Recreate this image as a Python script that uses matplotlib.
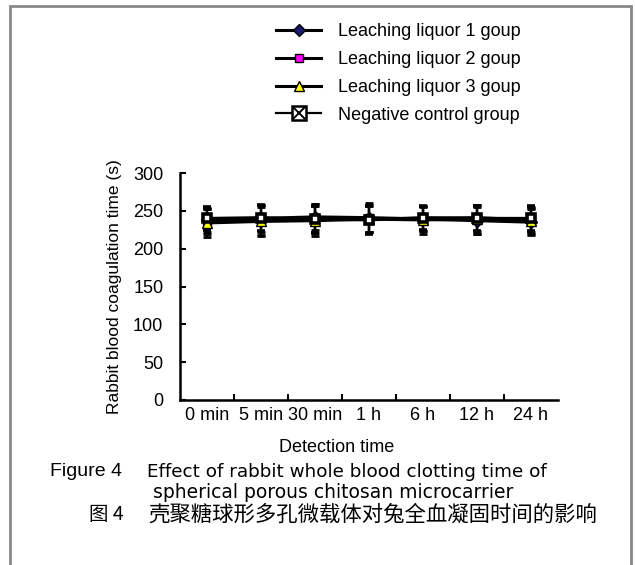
import numpy as np
import matplotlib.pyplot as plt
from matplotlib.legend_handler import HandlerTuple
from matplotlib.lines import Line2D
from matplotlib.patches import Rectangle

# Detection times and clotting times (s), mean and SD
times = ['0 min', '5 min', '30 min', '1 h', '6 h', '12 h', '24 h']
liquor1 = [238, 240, 242, 241, 239, 237, 235]
liquor2 = [236, 238, 240, 240, 240, 241, 238]
liquor3 = [234, 236, 237, 239, 238, 239, 237]
negative = [240, 241, 239, 238, 241, 240, 240]
liquor1_sd = [16, 18, 17, 19, 16, 18, 17]
liquor2_sd = [17, 20, 19, 18, 17, 17, 16]
liquor3_sd = [18, 19, 20, 17, 18, 19, 18]
negative_sd = [15, 17, 18, 19, 16, 17, 16]

plt.rcParams['font.family'] = ['Liberation Sans', 'DejaVu Sans']
plt.rcParams['font.size'] = 13

fig = plt.figure(figsize=(6.35, 5.65), dpi=100)
ax = fig.add_axes([180 / 635, 1 - 400 / 565, (558 - 180) / 635, (400 - 173) / 565])

x_pos = np.arange(len(times))
err_kw = dict(color='black', linewidth=2.2, elinewidth=1.6, capsize=3, capthick=2)

h1 = ax.errorbar(x_pos, liquor1, yerr=liquor1_sd, marker='D', markersize=6,
                 markerfacecolor='#1a1a6e', markeredgecolor='black', **err_kw)
h2 = ax.errorbar(x_pos, liquor2, yerr=liquor2_sd, marker='s', markersize=6,
                 markerfacecolor='#ff00ff', markeredgecolor='black', **err_kw)
h3 = ax.errorbar(x_pos, liquor3, yerr=liquor3_sd, marker='^', markersize=7,
                 markerfacecolor='#ffff00', markeredgecolor='black', **err_kw)
h4 = ax.errorbar(x_pos, negative, yerr=negative_sd, marker='s', markersize=6,
                 markerfacecolor='white', markeredgecolor='black', markeredgewidth=2.6, **err_kw)
ax.plot(x_pos, negative, linestyle='none', marker='x', markersize=4,
        color='black', markeredgewidth=1.2)

ax.set_ylim(0, 300)
ax.set_yticks(np.arange(0, 301, 50))
ax.set_xlim(-0.5, len(times) - 0.5)
ax.set_xticks(x_pos)
ax.set_xticklabels(times)
ax.set_xticks(np.arange(0.5, len(times) - 0.5, 1), minor=True)
ax.tick_params(axis='x', which='major', length=0, pad=5)
ax.tick_params(axis='x', which='minor', direction='in', length=4, width=1.5)
ax.tick_params(axis='y', direction='in', length=4, width=1.5, pad=12)
for side in ['top', 'right']:
    ax.spines[side].set_visible(False)
for side in ['left', 'bottom']:
    ax.spines[side].set_linewidth(1.8)
ax.set_ylabel('Rabbit blood coagulation time (s)', fontsize=12.5)
ax.yaxis.set_label_coords((122 - 180) / (558 - 180), 0.5)

fig.text(337 / 635, 1 - 447 / 565, 'Detection time', ha='center', va='center')

# legend sits outside the axes, at the top of the figure
nc_box = Line2D([], [], color='black', linewidth=1.6, marker='s', markersize=10,
                markerfacecolor='white', markeredgecolor='black', markeredgewidth=1.8)
nc_cross = Line2D([], [], linestyle='none', marker='x', markersize=8,
                  color='black', markeredgewidth=1.4)
leg_handles = [h1.lines[0], h2.lines[0], h3.lines[0], (nc_box, nc_cross)]
leg_labels = ['Leaching liquor 1 goup', 'Leaching liquor 2 goup',
              'Leaching liquor 3 goup', 'Negative control group']
fig.legend(leg_handles, leg_labels, loc='upper left',
           bbox_to_anchor=(260 / 635, 1 - 7 / 565), frameon=False,
           handlelength=2.5, handletextpad=0.9, labelspacing=0.6,
           handler_map={tuple: HandlerTuple(ndivide=1, pad=0)})

cap_font = ['DejaVu Sans']
fig.text(50 / 635, 1 - 472 / 565, 'Figure 4', ha='left', va='center', fontsize=14)
fig.text(147 / 635, 1 - 472 / 565, 'Effect of rabbit whole blood clotting time of',
         ha='left', va='center', fontsize=13.2, family=cap_font)
fig.text(153 / 635, 1 - 493 / 565, 'spherical porous chitosan microcarrier',
         ha='left', va='center', fontsize=13.5, family=cap_font)
fig.text(89 / 635, 1 - 515 / 565, '图 4', ha='left', va='center', fontsize=14,
         family=['Noto Sans CJK SC', 'DejaVu Sans'])
fig.text(148 / 635, 1 - 515 / 565, '壳聚糖球形多孔微载体对兔全血凝固时间的影响',
         ha='left', va='center', fontsize=15.4,
         family=['Noto Sans CJK SC', 'DejaVu Sans'])

# grey frame around the figure
fig.patches.append(Rectangle((10 / 635, -0.02), 621 / 635, 1.02 - 6 / 565,
                             transform=fig.transFigure, fill=False,
                             edgecolor='#888888', linewidth=2))

fig.savefig('out.png', dpi=100)
